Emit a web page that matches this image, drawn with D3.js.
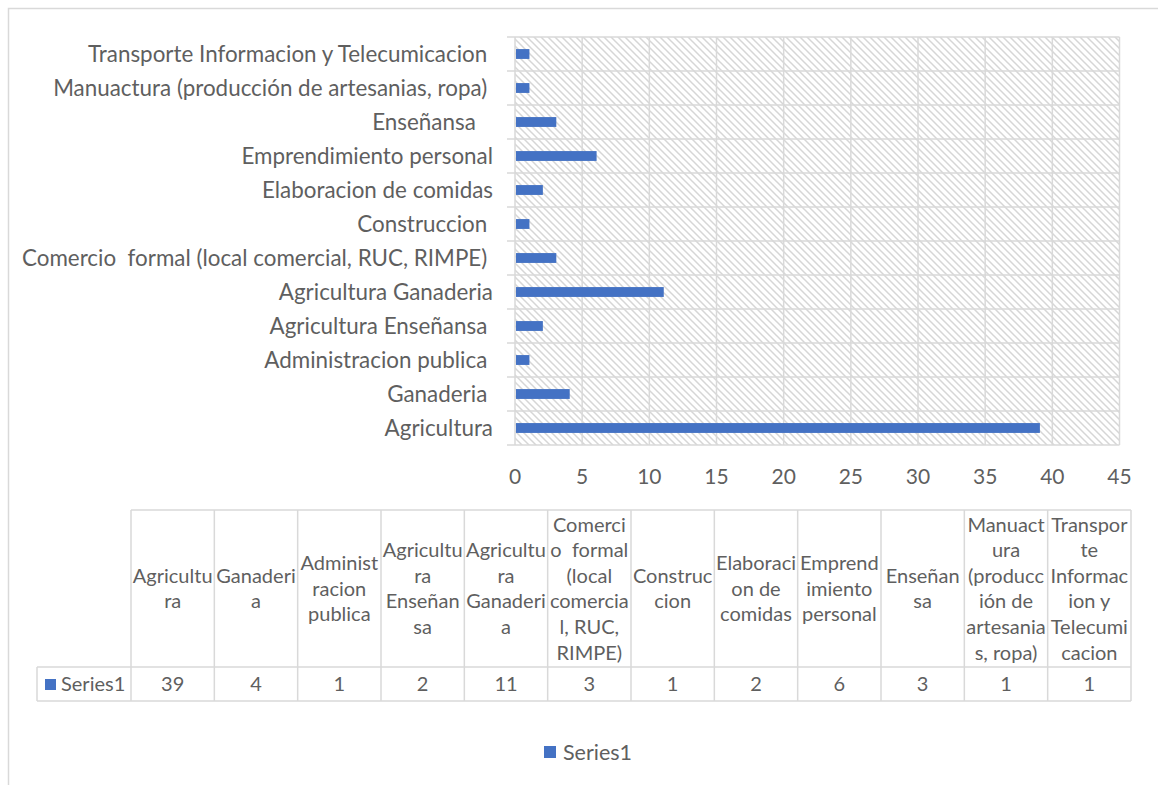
<!DOCTYPE html>
<html>
<head>
<meta charset="utf-8">
<script src="https://cdn.jsdelivr.net/npm/d3@7"></script>
<style>
  body { margin: 0; background: #fff; }
  text { font-family: Lato, "Noto Sans", sans-serif; fill: #5f5f5f; white-space: pre; }
</style>
</head>
<body>
<script>
// categories as they appear on the axis (bottom to top)
let categories = [
  "Agricultura", "Ganaderia ", "Administracion publica ", "Agricultura Enseñansa ",
  "Agricultura Ganaderia", "Comercio  formal (local comercial, RUC, RIMPE) ", "Construccion ",
  "Elaboracion de comidas", "Emprendimiento personal", "Enseñansa   ",
  "Manuactura (producción de artesanias, ropa) ", "Transporte Informacion y Telecumicacion "
];
let values = [39, 4, 1, 2, 11, 3, 1, 2, 6, 3, 1, 1];
let seriesName = "Series1";
let xTicks = [0, 5, 10, 15, 20, 25, 30, 35, 40, 45];
// header text of the data table, wrapped the way the original wraps it
let tableHeaders = [
  ["Agricultu", "ra"],
  ["Ganaderi", "a"],
  ["Administ", "racion", "publica"],
  ["Agricultu", "ra", "Enseñan", "sa"],
  ["Agricultu", "ra", "Ganaderi", "a"],
  ["Comerci", "o  formal", "(local", "comercia", "l, RUC,", "RIMPE)"],
  ["Construc", "cion"],
  ["Elaboraci", "on de", "comidas"],
  ["Emprend", "imiento", "personal"],
  ["Enseñan", "sa"],
  ["Manuact", "ura", "(producc", "ión de", "artesania", "s, ropa)"],
  ["Transpor", "te", "Informac", "ion y", "Telecumi", "cacion"]
];

let width = 1158, height = 785;
let blue = "#4472C4", grid = "#d9d9d9";
let catSize = 22.4, tickSize = 21, tableSize = 20, legendSize = 21.5;

let svg = d3.select("body").append("svg")
  .attr("width", width)
  .attr("height", height);

// hatch pattern for the plot area
let defs = svg.append("defs");
let pat = defs.append("pattern")
  .attr("id", "hatch")
  .attr("patternUnits", "userSpaceOnUse")
  .attr("width", 7).attr("height", 7);
pat.append("path")
  .attr("d", "M-1,-1 L8,8 M-8,-1 L1,8 M6,-1 L15,8")
  .attr("stroke", "#d6d6d6")
  .attr("stroke-width", 1.5);

// chart border
svg.append("rect")
  .attr("x", 8.5).attr("y", 8.5)
  .attr("width", width).attr("height", height)
  .attr("fill", "none")
  .attr("stroke", grid)
  .attr("stroke-width", 1.5);

let plot = { left: 515, right: 1119.5, top: 37, bottom: 445 };

let x = d3.scaleLinear().domain([0, 45]).range([plot.left, plot.right]);
let y = d3.scaleBand()
  .domain(d3.range(categories.length))
  .range([plot.bottom, plot.top])
  .paddingInner(0.71)
  .paddingOuter(0.355);
let rows = d3.scaleBand()
  .domain(d3.range(categories.length))
  .range([plot.bottom, plot.top]);

let g = svg.append("g");

g.append("rect")
  .attr("x", plot.left).attr("y", plot.top)
  .attr("width", plot.right - plot.left)
  .attr("height", plot.bottom - plot.top)
  .attr("fill", "url(#hatch)");

// vertical gridlines
g.selectAll(".vgrid")
  .data(xTicks)
  .join("line")
  .attr("class", "vgrid")
  .attr("x1", d => x(d)).attr("x2", d => x(d))
  .attr("y1", plot.top).attr("y2", plot.bottom)
  .attr("stroke", grid).attr("stroke-width", 1.5);

// horizontal row lines (with outside ticks)
let rowEdges = d3.range(categories.length + 1).map(i => i === categories.length ? plot.top : rows(i) + rows.bandwidth());
g.selectAll(".hgrid")
  .data(rowEdges)
  .join("line")
  .attr("class", "hgrid")
  .attr("x1", plot.left - 8).attr("x2", plot.right)
  .attr("y1", d => d).attr("y2", d => d)
  .attr("stroke", grid).attr("stroke-width", 1.5);

// bars
g.selectAll(".bar")
  .data(values)
  .join("rect")
  .attr("class", "bar")
  .attr("x", x(0) + 1)
  .attr("y", (d, i) => y(i))
  .attr("width", d => x(d) - x(0))
  .attr("height", y.bandwidth())
  .attr("fill", blue);

// category labels
g.selectAll(".cat")
  .data(categories)
  .join("text")
  .attr("class", "cat")
  .attr("x", plot.left - 22)
  .attr("y", (d, i) => rows(i) + rows.bandwidth() / 2)
  .attr("dy", "0.35em")
  .attr("text-anchor", "end")
  .attr("font-size", catSize)
  .text(d => d);

// x tick labels
g.selectAll(".xt")
  .data(xTicks)
  .join("text")
  .attr("class", "xt")
  .attr("x", d => x(d))
  .attr("y", 477)
  .attr("dy", "0.35em")
  .attr("text-anchor", "middle")
  .attr("font-size", tickSize)
  .text(d => d);

// data table
let tbl = { left: 131, right: 1131, top: 510, mid: 667, bottom: 701, keyLeft: 37 };
let col = d3.scaleBand()
  .domain(d3.range(values.length))
  .range([tbl.left, tbl.right]);

let t = svg.append("g");
t.append("line")
  .attr("x1", tbl.left).attr("x2", tbl.right)
  .attr("y1", tbl.top).attr("y2", tbl.top)
  .attr("stroke", grid).attr("stroke-width", 1.5);
t.selectAll(".hl")
  .data([tbl.mid, tbl.bottom])
  .join("line")
  .attr("class", "hl")
  .attr("x1", tbl.keyLeft).attr("x2", tbl.right)
  .attr("y1", d => d).attr("y2", d => d)
  .attr("stroke", grid).attr("stroke-width", 1.5);
t.selectAll(".vl")
  .data(d3.range(values.length + 1))
  .join("line")
  .attr("class", "vl")
  .attr("x1", i => tbl.left + i * col.step()).attr("x2", i => tbl.left + i * col.step())
  .attr("y1", tbl.top).attr("y2", tbl.bottom)
  .attr("stroke", grid).attr("stroke-width", 1.5);
t.append("line")
  .attr("x1", tbl.keyLeft).attr("x2", tbl.keyLeft)
  .attr("y1", tbl.mid).attr("y2", tbl.bottom)
  .attr("stroke", grid).attr("stroke-width", 1.5);

let lineH = 25.6;
let headerMid = (tbl.top + tbl.mid) / 2;
let heads = t.selectAll(".head")
  .data(tableHeaders)
  .join("text")
  .attr("class", "head")
  .attr("text-anchor", "middle")
  .attr("font-size", tableSize);
heads.selectAll("tspan")
  .data((d, i) => d.map((s, k) => ({ s: s, k: k, n: d.length, i: i })))
  .join("tspan")
  .attr("x", d => col(d.i) + col.bandwidth() / 2)
  .attr("y", d => headerMid + (d.k - (d.n - 1) / 2) * lineH)
  .attr("dy", "0.35em")
  .text(d => d.s);

t.selectAll(".val")
  .data(values)
  .join("text")
  .attr("class", "val")
  .attr("x", (d, i) => col(i) + col.bandwidth() / 2)
  .attr("y", (tbl.mid + tbl.bottom) / 2)
  .attr("dy", "0.35em")
  .attr("text-anchor", "middle")
  .attr("font-size", tableSize)
  .text(d => d);

t.append("rect")
  .attr("x", 45).attr("y", 679)
  .attr("width", 11).attr("height", 11)
  .attr("fill", blue);
t.append("text")
  .attr("x", 61)
  .attr("y", (tbl.mid + tbl.bottom) / 2)
  .attr("dy", "0.35em")
  .attr("font-size", tableSize)
  .text(seriesName);

// legend
let legend = svg.append("g").attr("transform", "translate(544,746)");
legend.append("rect")
  .attr("width", 12).attr("height", 12)
  .attr("fill", blue);
legend.append("text")
  .attr("x", 19).attr("y", 6)
  .attr("dy", "0.35em")
  .attr("font-size", legendSize)
  .text(seriesName);
</script>
</body>
</html>
